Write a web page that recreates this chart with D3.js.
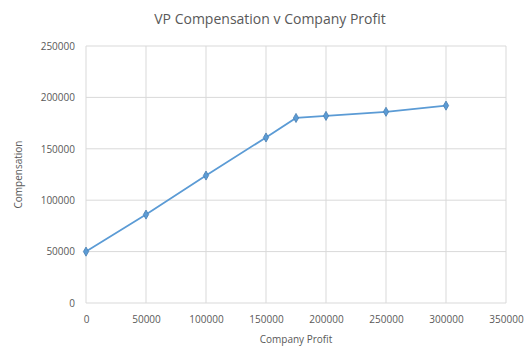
<!DOCTYPE html>
<html>
<head>
<meta charset="utf-8">
<script src="https://cdn.jsdelivr.net/npm/d3@7"></script>
<style>
  body { margin: 0; background: #fff; }
  text { font-family: "Open Sans", "DejaVu Sans", sans-serif; fill: #595959; }
</style>
</head>
<body>
<script>
// values
var profit = [0, 50000, 100000, 150000, 175000, 200000, 250000, 300000];
var compensation = [50000, 86000, 124000, 161000, 180000, 182000, 186000, 192000];
var x_ticks = [0, 50000, 100000, 150000, 200000, 250000, 300000, 350000];
var y_ticks = [0, 50000, 100000, 150000, 200000, 250000];

const W = 529, H = 348;
const plot_left = 86, plot_right = 506, plot_top = 46, plot_bottom = 303;

var svg = d3.select('body')
  .append('svg')
  .attr('width', W)
  .attr('height', H);

var x = d3.scaleLinear().domain([0, 350000]).range([plot_left, plot_right]);
var y = d3.scaleLinear().domain([0, 250000]).range([plot_bottom, plot_top]);

// gridlines
svg.append('g')
  .selectAll('line')
  .data(y_ticks)
  .join('line')
  .attr('x1', plot_left)
  .attr('x2', plot_right)
  .attr('y1', d => y(d))
  .attr('y2', d => y(d))
  .attr('stroke', '#d9d9d9')
  .attr('stroke-width', 1);

svg.append('g')
  .selectAll('line')
  .data(x_ticks)
  .join('line')
  .attr('x1', d => x(d))
  .attr('x2', d => x(d))
  .attr('y1', plot_top)
  .attr('y2', plot_bottom)
  .attr('stroke', '#d9d9d9')
  .attr('stroke-width', 1);

// axes
var xAxis = svg.append('g')
  .attr('transform', 'translate(0,' + (plot_bottom + 10) + ')')
  .call(d3.axisBottom(x).tickValues(x_ticks).tickSize(0).tickFormat(d3.format('d')));
xAxis.select('.domain').remove();
xAxis.selectAll('text').attr('font-size', 10).style('fill', '#595959');

var yAxis = svg.append('g')
  .attr('transform', 'translate(' + (plot_left - 8) + ',0)')
  .call(d3.axisLeft(y).tickValues(y_ticks).tickSize(0).tickFormat(d3.format('d')));
yAxis.select('.domain').remove();
yAxis.selectAll('text').attr('font-size', 10).style('fill', '#595959');

// titles
svg.append('text')
  .attr('x', 270)
  .attr('y', 24)
  .attr('text-anchor', 'middle')
  .attr('font-size', 14)
  .text('VP Compensation v Company Profit');

svg.append('text')
  .attr('x', 296)
  .attr('y', 343)
  .attr('text-anchor', 'middle')
  .attr('font-size', 10)
  .text('Company Profit');

svg.append('text')
  .attr('transform', 'translate(22,' + ((plot_top + plot_bottom) / 2) + ') rotate(-90)')
  .attr('text-anchor', 'middle')
  .attr('font-size', 10)
  .text('Compensation');

// series
var pts = profit.map((p, i) => [p, compensation[i]]);

svg.append('path')
  .datum(pts)
  .attr('fill', 'none')
  .attr('stroke', '#5b9bd5')
  .attr('stroke-width', 1.75)
  .attr('d', d3.line().x(d => x(d[0])).y(d => y(d[1])));

svg.append('g')
  .selectAll('path')
  .data(pts)
  .join('path')
  .attr('transform', d => 'translate(' + x(d[0]) + ',' + y(d[1]) + ')')
  .attr('d', d3.symbol().type(d3.symbolDiamond).size(24))
  .attr('fill', '#5b9bd5')
  .attr('stroke', '#4a7fb0')
  .attr('stroke-width', 0.8);
</script>
</body>
</html>
